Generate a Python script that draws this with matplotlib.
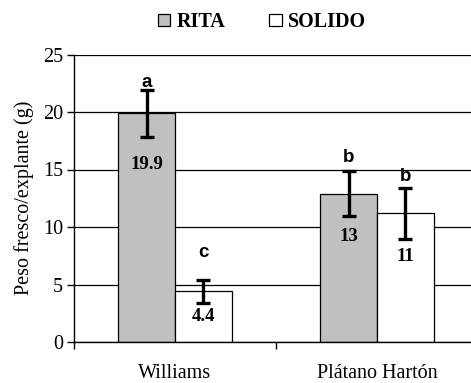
import numpy as np
import matplotlib
matplotlib.use('Agg')
import matplotlib.pyplot as plt
from matplotlib.patches import Patch

# datos
variedades = ['Williams', 'Plátano Hartón']
series = ['RITA', 'SOLIDO']
rita = [19.9, 12.9]
solido = [4.4, 11.2]
rita_err = [2.05, 1.95]
solido_err = [1.0, 2.2]
rita_txt = ['19.9', '13']
solido_txt = ['4.4', '11']
rita_letras = ['a', 'b']
solido_letras = ['c', 'b']
# posiciones (valores y) de las etiquetas
rita_txt_y = [15.4, 9.2]
solido_txt_y = [2.2, 7.4]
rita_letra_y = [22.6, 16.0]
solido_letra_y = [7.8, 14.4]

SERIF = ['Liberation Serif', 'DejaVu Serif']
SANS = ['Liberation Sans', 'DejaVu Sans']
plt.rcParams['font.family'] = SERIF

fig = plt.figure(figsize=(4.71, 3.83), dpi=100)
ax = fig.add_axes([74 / 471, 1 - 342 / 383, 404 / 471, (342 - 54.5) / 383])

x = np.arange(len(variedades))
w = 0.282
col_rita = '#c0c0c0'
col_solido = '#ffffff'

ax.bar(x - w / 2, rita, w, color=col_rita, edgecolor='black', linewidth=0.9, zorder=2)
ax.bar(x + w / 2, solido, w, color=col_solido, edgecolor='black', linewidth=0.9, zorder=2)

eb = dict(fmt='none', ecolor='black', elinewidth=2.4, capsize=5, capthick=2.4, zorder=3)
ax.errorbar(x - w / 2, rita, yerr=rita_err, **eb)
ax.errorbar(x + w / 2, solido, yerr=solido_err, **eb)

for i in range(len(variedades)):
    ax.text(x[i] - w / 2, rita_txt_y[i], rita_txt[i], ha='center', va='center',
            fontsize=13.5, fontweight='bold', family=SERIF, zorder=4)
    ax.text(x[i] + w / 2, solido_txt_y[i], solido_txt[i], ha='center', va='center',
            fontsize=13.5, fontweight='bold', family=SERIF, zorder=4)
    ax.text(x[i] - w / 2, rita_letra_y[i], rita_letras[i], ha='center', va='center',
            fontsize=13.5, fontweight='bold', family=SANS, zorder=4)
    ax.text(x[i] + w / 2, solido_letra_y[i], solido_letras[i], ha='center', va='center',
            fontsize=13.5, fontweight='bold', family=SANS, zorder=4)

# ejes
ax.set_xlim(-0.5, 1.5)
ax.set_ylim(0, 25)
ax.set_yticks([0, 5, 10, 15, 20, 25])
ax.yaxis.grid(True, color='black', linewidth=0.9)
ax.set_axisbelow(True)
ax.spines['top'].set_visible(False)
ax.spines['right'].set_visible(False)
ax.spines['left'].set_linewidth(1.0)
ax.spines['bottom'].set_linewidth(1.0)

ax.set_xticks([-0.5, 0.5, 1.5])
ax.set_xticklabels([])
ax.set_xticks(x, minor=True)
ax.set_xticklabels(variedades, minor=True)
ax.tick_params(axis='x', which='minor', length=0, pad=16, labelsize=14.5)
ax.tick_params(axis='x', which='major', length=5, width=1, direction='out')
ax.tick_params(axis='y', length=5, width=1, direction='out', labelsize=14.5, pad=3)

ax.set_ylabel('Peso fresco/explante (g)', fontsize=14.5, labelpad=6)

handles = [Patch(facecolor=col_rita, edgecolor='black', linewidth=0.9),
           Patch(facecolor=col_solido, edgecolor='black', linewidth=0.9)]
fig.legend(handles, series, loc='center', bbox_to_anchor=(262 / 471, 1 - 22 / 383),
           ncol=2, frameon=False, handlelength=0.6, handleheight=0.6,
           handletextpad=0.3, columnspacing=2.2,
           prop={'family': SERIF, 'size': 14.5, 'weight': 'bold'})

fig.savefig('out.png', dpi=100)
